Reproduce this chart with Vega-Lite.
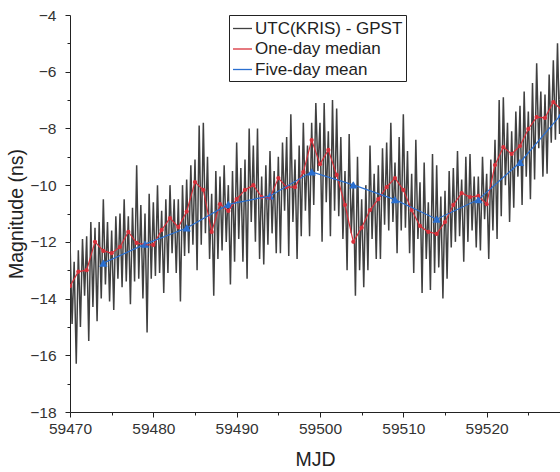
{
  "$schema": "https://vega.github.io/schema/vega-lite/v6.json",
  "width": 490,
  "height": 397,
  "autosize": {"type": "none"},
  "padding": {"left": 70, "top": 15, "right": 0, "bottom": 60},
  "background": "white",
  "config": {
    "view": {"stroke": null},
    "axis": {
      "domainColor": "#222", "tickColor": "#222", "labelColor": "#333",
      "labelFont": "Liberation Sans", "labelFontSize": 15.5,
      "titleFont": "Liberation Sans", "titleFontSize": 19.5, "titleFontWeight": "normal", "titleColor": "#222",
      "grid": false
    },
    "legend": {
      "orient": "none", "legendX": 159, "legendY": 0,
      "strokeColor": "#222", "fillColor": "white", "padding": 3,
      "labelFont": "Liberation Sans", "labelFontSize": 17, "labelColor": "#222",
      "symbolType": "stroke", "symbolSize": 361, "symbolStrokeWidth": 1.3, "symbolOpacity": 1,
      "rowPadding": 1.5, "labelOffset": 2
    }
  },
  "datasets": {
    "gray": [
      {"x":59470,"y":-12.0},{"x":59470.25,"y":-14.9},{"x":59470.5,"y":-12.7},{"x":59470.75,"y":-16.3},
      {"x":59471,"y":-12.3},{"x":59471.25,"y":-15.0},{"x":59471.5,"y":-11.9},{"x":59471.75,"y":-13.9},
      {"x":59472,"y":-11.8},{"x":59472.25,"y":-15.5},{"x":59472.5,"y":-11.3},{"x":59472.75,"y":-14.3},
      {"x":59473,"y":-11.5},{"x":59473.25,"y":-14.8},{"x":59473.5,"y":-11.3},{"x":59473.75,"y":-14.0},
      {"x":59474,"y":-10.5},{"x":59474.25,"y":-13.5},{"x":59474.5,"y":-11.3},{"x":59474.75,"y":-14.1},
      {"x":59475,"y":-11.6},{"x":59475.25,"y":-14.4},{"x":59475.5,"y":-11.1},{"x":59475.75,"y":-13.3},
      {"x":59476,"y":-11.0},{"x":59476.25,"y":-13.6},{"x":59476.5,"y":-10.5},{"x":59476.75,"y":-13.4},
      {"x":59477,"y":-11.1},{"x":59477.25,"y":-14.2},{"x":59477.5,"y":-10.8},{"x":59477.75,"y":-13.4},
      {"x":59478,"y":-9.3},{"x":59478.25,"y":-13.3},{"x":59478.5,"y":-10.7},{"x":59478.75,"y":-14.0},
      {"x":59479,"y":-11.0},{"x":59479.25,"y":-15.2},{"x":59479.5,"y":-10.3},{"x":59479.75,"y":-13.3},
      {"x":59480,"y":-10.6},{"x":59480.25,"y":-13.2},{"x":59480.5,"y":-10.0},{"x":59480.75,"y":-13.1},
      {"x":59481,"y":-10.9},{"x":59481.25,"y":-13.8},{"x":59481.5,"y":-10.5},{"x":59481.75,"y":-13.1},
      {"x":59482,"y":-10.0},{"x":59482.25,"y":-12.4},{"x":59482.5,"y":-10.5},{"x":59482.75,"y":-13.1},
      {"x":59483,"y":-10.5},{"x":59483.25,"y":-14.1},{"x":59483.5,"y":-10.0},{"x":59483.75,"y":-12.5},
      {"x":59484,"y":-9.8},{"x":59484.25,"y":-12.4},{"x":59484.5,"y":-9.3},{"x":59484.75,"y":-12.1},
      {"x":59485,"y":-9.1},{"x":59485.25,"y":-13.0},{"x":59485.5,"y":-7.9},{"x":59485.75,"y":-12.1},
      {"x":59486,"y":-7.8},{"x":59486.25,"y":-11.7},{"x":59486.5,"y":-9.0},{"x":59486.75,"y":-12.6},
      {"x":59487,"y":-10.3},{"x":59487.25,"y":-13.9},{"x":59487.5,"y":-9.5},{"x":59487.75,"y":-12.6},
      {"x":59488,"y":-9.7},{"x":59488.25,"y":-12.3},{"x":59488.5,"y":-9.3},{"x":59488.75,"y":-12.0},
      {"x":59489,"y":-10.0},{"x":59489.25,"y":-13.5},{"x":59489.5,"y":-9.5},{"x":59489.75,"y":-12.7},
      {"x":59490,"y":-8.5},{"x":59490.25,"y":-11.9},{"x":59490.5,"y":-9.4},{"x":59490.75,"y":-12.7},
      {"x":59491,"y":-9.1},{"x":59491.25,"y":-13.3},{"x":59491.5,"y":-8.0},{"x":59491.75,"y":-11.3},
      {"x":59492,"y":-8.6},{"x":59492.25,"y":-12.0},{"x":59492.5,"y":-8.0},{"x":59492.75,"y":-12.6},
      {"x":59493,"y":-9.7},{"x":59493.25,"y":-12.8},{"x":59493.5,"y":-9.3},{"x":59493.75,"y":-12.1},
      {"x":59494,"y":-8.8},{"x":59494.25,"y":-11.7},{"x":59494.5,"y":-9.5},{"x":59494.75,"y":-12.4},
      {"x":59495,"y":-9.0},{"x":59495.25,"y":-12.4},{"x":59495.5,"y":-8.5},{"x":59495.75,"y":-10.9},
      {"x":59496,"y":-8.3},{"x":59496.25,"y":-12.5},{"x":59496.5,"y":-7.5},{"x":59496.75,"y":-11.3},
      {"x":59497,"y":-9.1},{"x":59497.25,"y":-12.6},{"x":59497.5,"y":-8.6},{"x":59497.75,"y":-11.8},
      {"x":59498,"y":-7.8},{"x":59498.25,"y":-10.9},{"x":59498.5,"y":-8.6},{"x":59498.75,"y":-11.8},
      {"x":59499,"y":-7.8},{"x":59499.25,"y":-10.7},{"x":59499.5,"y":-7.1},{"x":59499.75,"y":-9.5},
      {"x":59500,"y":-7.8},{"x":59500.25,"y":-12.0},{"x":59500.5,"y":-7.1},{"x":59500.75,"y":-10.6},
      {"x":59501,"y":-8.1},{"x":59501.25,"y":-11.8},{"x":59501.5,"y":-7.0},{"x":59501.75,"y":-10.9},
      {"x":59502,"y":-7.3},{"x":59502.25,"y":-11.1},{"x":59502.5,"y":-8.3},{"x":59502.75,"y":-11.9},
      {"x":59503,"y":-9.5},{"x":59503.25,"y":-13.0},{"x":59503.5,"y":-8.2},{"x":59503.75,"y":-11.7},
      {"x":59504,"y":-9.9},{"x":59504.25,"y":-13.9},{"x":59504.5,"y":-9.0},{"x":59504.75,"y":-13.0},
      {"x":59505,"y":-10.5},{"x":59505.25,"y":-13.6},{"x":59505.5,"y":-10.0},{"x":59505.75,"y":-13.0},
      {"x":59506,"y":-8.6},{"x":59506.25,"y":-11.9},{"x":59506.5,"y":-9.6},{"x":59506.75,"y":-12.6},
      {"x":59507,"y":-9.3},{"x":59507.25,"y":-12.6},{"x":59507.5,"y":-8.7},{"x":59507.75,"y":-11.4},
      {"x":59508,"y":-8.5},{"x":59508.25,"y":-11.6},{"x":59508.5,"y":-7.8},{"x":59508.75,"y":-11.3},
      {"x":59509,"y":-9.2},{"x":59509.25,"y":-12.4},{"x":59509.5,"y":-8.3},{"x":59509.75,"y":-11.6},
      {"x":59510,"y":-7.5},{"x":59510.25,"y":-11.5},{"x":59510.5,"y":-8.8},{"x":59510.75,"y":-12.4},
      {"x":59511,"y":-9.6},{"x":59511.25,"y":-13.1},{"x":59511.5,"y":-8.4},{"x":59511.75,"y":-11.9},
      {"x":59512,"y":-9.9},{"x":59512.25,"y":-13.8},{"x":59512.5,"y":-9.2},{"x":59512.75,"y":-12.6},
      {"x":59513,"y":-10.6},{"x":59513.25,"y":-13.7},{"x":59513.5,"y":-8.9},{"x":59513.75,"y":-13.1},
      {"x":59514,"y":-9.3},{"x":59514.25,"y":-12.9},{"x":59514.5,"y":-10.4},{"x":59514.75,"y":-14.0},
      {"x":59515,"y":-10.2},{"x":59515.25,"y":-13.3},{"x":59515.5,"y":-9.5},{"x":59515.75,"y":-12.2},
      {"x":59516,"y":-9.4},{"x":59516.25,"y":-12.0},{"x":59516.5,"y":-8.8},{"x":59516.75,"y":-11.8},
      {"x":59517,"y":-9.8},{"x":59517.25,"y":-12.7},{"x":59517.5,"y":-9.0},{"x":59517.75,"y":-12.0},
      {"x":59518,"y":-8.9},{"x":59518.25,"y":-11.6},{"x":59518.5,"y":-9.7},{"x":59518.75,"y":-12.2},
      {"x":59519,"y":-9.7},{"x":59519.25,"y":-12.3},{"x":59519.5,"y":-9.0},{"x":59519.75,"y":-11.2},
      {"x":59520,"y":-9.6},{"x":59520.25,"y":-12.6},{"x":59520.5,"y":-9.1},{"x":59520.75,"y":-11.6},
      {"x":59521,"y":-8.4},{"x":59521.25,"y":-11.9},{"x":59521.5,"y":-7.0},{"x":59521.75,"y":-11.1},
      {"x":59522,"y":-6.9},{"x":59522.25,"y":-10.0},{"x":59522.5,"y":-7.8},{"x":59522.75,"y":-11.3},
      {"x":59523,"y":-8.1},{"x":59523.25,"y":-10.8},{"x":59523.5,"y":-7.4},{"x":59523.75,"y":-9.7},
      {"x":59524,"y":-7.2},{"x":59524.25,"y":-10.7},{"x":59524.5,"y":-6.7},{"x":59524.75,"y":-9.7},
      {"x":59525,"y":-7.4},{"x":59525.25,"y":-10.5},{"x":59525.5,"y":-6.4},{"x":59525.75,"y":-9.8},
      {"x":59526,"y":-5.7},{"x":59526.25,"y":-8.7},{"x":59526.5,"y":-6.7},{"x":59526.75,"y":-9.7},
      {"x":59527,"y":-6.8},{"x":59527.25,"y":-9.6},{"x":59527.5,"y":-6.1},{"x":59527.75,"y":-8.5},
      {"x":59528,"y":-5.6},{"x":59528.25,"y":-8.4},{"x":59528.5,"y":-5.0},{"x":59528.75,"y":-8.2},
      {"x":59529,"y":-4.7}
    ],
    "red": [
      {"x":59470,"y":-13.56},{"x":59471,"y":-13.05},{"x":59472,"y":-13.0},{"x":59473,"y":-12.0},
      {"x":59474,"y":-12.32},{"x":59475,"y":-12.4},{"x":59476,"y":-12.18},{"x":59477,"y":-11.65},
      {"x":59478,"y":-12.04},{"x":59479,"y":-12.1},{"x":59480,"y":-12.11},{"x":59481,"y":-11.58},
      {"x":59482,"y":-11.16},{"x":59483,"y":-11.48},{"x":59484,"y":-10.93},{"x":59485,"y":-9.89},
      {"x":59486,"y":-10.17},{"x":59487,"y":-11.65},{"x":59488,"y":-10.67},{"x":59489,"y":-10.91},
      {"x":59490,"y":-10.49},{"x":59491,"y":-10.17},{"x":59492,"y":-10.0},{"x":59493,"y":-10.42},
      {"x":59494,"y":-10.46},{"x":59495,"y":-9.75},{"x":59496,"y":-10.07},{"x":59497,"y":-10.07},
      {"x":59498,"y":-9.54},{"x":59499,"y":-8.41},{"x":59500,"y":-9.26},{"x":59501,"y":-8.76},
      {"x":59502,"y":-9.64},{"x":59503,"y":-10.7},{"x":59504,"y":-12.0},{"x":59505,"y":-11.5},
      {"x":59506,"y":-10.88},{"x":59507,"y":-10.49},{"x":59508,"y":-10.07},{"x":59509,"y":-9.75},
      {"x":59510,"y":-10.17},{"x":59511,"y":-10.88},{"x":59512,"y":-11.44},{"x":59513,"y":-11.65},
      {"x":59514,"y":-11.72},{"x":59515,"y":-11.3},{"x":59516,"y":-10.7},{"x":59517,"y":-10.28},
      {"x":59518,"y":-10.42},{"x":59519,"y":-10.38},{"x":59520,"y":-10.67},{"x":59521,"y":-9.29},
      {"x":59522,"y":-8.66},{"x":59523,"y":-8.9},{"x":59524,"y":-8.62},{"x":59525,"y":-8.02},
      {"x":59526,"y":-7.6},{"x":59527,"y":-7.63},{"x":59528,"y":-7.07},{"x":59529,"y":-7.35}
    ],
    "blue": [
      {"x":59474,"y":-12.75},{"x":59479,"y":-12.08},{"x":59484,"y":-11.51},{"x":59489,"y":-10.68},
      {"x":59494,"y":-10.38},{"x":59499,"y":-9.53},{"x":59504,"y":-9.99},{"x":59509,"y":-10.51},
      {"x":59514,"y":-11.2},{"x":59519,"y":-10.51},{"x":59524,"y":-9.2},{"x":59529,"y":-7.49}
    ]
  },
  "encoding": {
    "x": {
      "field": "x", "type": "quantitative",
      "scale": {"domain": [59470, 59528.8], "nice": false, "zero": false},
      "axis": {
        "title": "MJD", "values": [59470,59475,59480,59485,59490,59495,59500,59505,59510,59515,59520,59525],
        "format": "d", "labelExpr": "datum.value % 10 === 0 ? datum.label : ''",
        "tickSize": {"condition": {"test": "datum.value % 10 !== 0", "value": 3}, "value": 5},
        "labelPadding": 4, "titlePadding": 14, "labelFlush": false
      }
    },
    "y": {
      "field": "y", "type": "quantitative",
      "scale": {"domain": [-18, -4], "nice": false, "zero": false},
      "axis": {
        "title": "Magnitude (ns)", "values": [-18,-17,-16,-15,-14,-13,-12,-11,-10,-9,-8,-7,-6,-5,-4],
        "labelExpr": "datum.value % 2 === 0 ? datum.label : ''",
        "tickSize": {"condition": {"test": "datum.value % 2 !== 0", "value": 3}, "value": 5},
        "labelPadding": 9, "titlePadding": 3, "labelFlush": false
      }
    }
  },
  "layer": [
    {
      "data": {"name": "gray"},
      "mark": {"type": "line", "strokeWidth": 1.5, "clip": true},
      "encoding": {
        "color": {"datum": "UTC(KRIS) - GPST", "type": "nominal",
          "scale": {"domain": ["UTC(KRIS) - GPST", "One-day median", "Five-day mean"], "range": ["#404040", "#d8303a", "#2a6fd0"]},
          "legend": {"title": null}}
      }
    },
    {
      "data": {"name": "red"},
      "mark": {"type": "point", "filled": true, "size": 18, "shape": "circle", "opacity": 1, "clip": true},
      "encoding": {"color": {"datum": "One-day median", "type": "nominal"}}
    },
    {
      "data": {"name": "blue"},
      "mark": {"type": "point", "filled": true, "size": 70, "shape": "triangle-up", "opacity": 1, "clip": true},
      "encoding": {"color": {"datum": "Five-day mean", "type": "nominal"}}
    },
    {
      "data": {"name": "red"},
      "mark": {"type": "line", "strokeWidth": 1.2, "clip": true},
      "encoding": {"color": {"datum": "One-day median", "type": "nominal"}}
    },
    {
      "data": {"name": "blue"},
      "mark": {"type": "line", "strokeWidth": 1.2, "clip": true},
      "encoding": {"color": {"datum": "Five-day mean", "type": "nominal"}}
    }
  ]
}
